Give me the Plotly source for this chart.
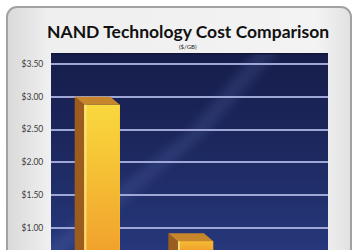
import base64
import plotly.graph_objects as go

# ---- data ----
categories = ["NAND A", "NAND B"]
cost_per_gb = [2.88, 0.80]
y_ticks = [0.5, 1.0, 1.5, 2.0, 2.5, 3.0, 3.5]
y_tick_labels = ["$0.50", "$1.00", "$1.50", "$2.00", "$2.50", "$3.00", "$3.50"]
title_text = "NAND Technology Cost Comparison"
subtitle_text = "($/GB)"

W, H = 359, 250
ML, MR, MT, MB = 51, 31, 53, 0
PW, PH = W - ML - MR, H - MT - MB
Y_RANGE = [0.665, 3.665]


def px(x):
    return (x - ML) / PW


def py(y):
    return (H - MB - y) / PH


bar_w = 0.38
depth_x = -0.10   # oblique depth in x units
depth_y = 0.12    # oblique depth in value units
xpos = list(range(len(categories)))

fig = go.Figure()

# front faces (bars)
fig.add_trace(go.Bar(
    x=xpos, y=cost_per_gb, width=bar_w, hovertext=categories,
    marker=dict(color="#f5c033", line=dict(width=0)),
    hoverinfo="text+y", showlegend=False,
))

for i, v in zip(xpos, cost_per_gb):
    xl, xr = i - bar_w / 2, i + bar_w / 2
    # shaded front face overlay
    fig.add_trace(go.Scatter(
        x=[xl, xr, xr, xl, xl], y=[0, 0, v, v, 0],
        fill="toself", mode="lines", line=dict(width=0),
        fillgradient=dict(type="vertical", start=Y_RANGE[0], stop=max(v, Y_RANGE[0] + 0.3),
                          colorscale=[[0, "#f1a22c"], [0.6, "#f6c436"], [1, "#f9d83e"]]),
        hoverinfo="skip", showlegend=False,
    ))
    # light edge on the left of the front face
    fig.add_trace(go.Scatter(
        x=[xl, xl + 0.025, xl + 0.025, xl, xl], y=[0, 0, v, v, 0],
        fill="toself", fillcolor="rgba(252,232,140,0.75)", mode="lines",
        line=dict(width=0), hoverinfo="skip", showlegend=False,
    ))
    # side face
    fig.add_trace(go.Scatter(
        x=[xl, xl, xl + depth_x, xl + depth_x, xl],
        y=[0, v, v + depth_y, 0 + depth_y, 0],
        fill="toself", fillcolor="#9c5c1d", mode="lines",
        line=dict(width=0), hoverinfo="skip", showlegend=False,
    ))
    # top face
    fig.add_trace(go.Scatter(
        x=[xl, xr, xr + depth_x, xl + depth_x, xl],
        y=[v, v, v + depth_y, v + depth_y, v],
        fill="toself", fillcolor="#c7852c", mode="lines",
        line=dict(width=0), hoverinfo="skip", showlegend=False,
    ))

# decorative background (card + navy plot panel) as inline SVG
svg = f"""<svg xmlns='http://www.w3.org/2000/svg' width='{W}' height='{H}' viewBox='0 0 {W} {H}'>
<defs>
<linearGradient id='card' x1='0' y1='0' x2='1' y2='0'>
<stop offset='0' stop-color='#d9d9d9'/><stop offset='0.12' stop-color='#efefef'/>
<stop offset='0.9' stop-color='#f3f3f3'/><stop offset='1' stop-color='#e2e2e2'/></linearGradient>
<linearGradient id='panel' x1='0' y1='0' x2='0' y2='1'>
<stop offset='0' stop-color='#161d4a'/><stop offset='0.45' stop-color='#1c275d'/>
<stop offset='1' stop-color='#26387b'/></linearGradient>
<filter id='blur' x='-20%' y='-20%' width='140%' height='140%'><feGaussianBlur stdDeviation='4'/></filter>
<clipPath id='pc'><rect x='{ML}' y='{MT}' width='{PW}' height='{PH}'/></clipPath>
</defs>
<rect x='0' y='0' width='{W}' height='{H}' fill='white'/>
<rect x='7' y='7' width='344' height='300' rx='10' ry='10' fill='url(#card)' stroke='#a2a2a2' stroke-width='2'/>
<rect x='{ML}' y='{MT}' width='{PW}' height='{PH}' fill='url(#panel)'/>
<g clip-path='url(#pc)'>
<polygon points='258,{MT - 5} 282,{MT - 5} 205,135 {ML + 10},255 {ML - 15},255 190,130' fill='#6b7fc8' fill-opacity='0.18' filter='url(#blur)'/>
</g>
<rect x='{ML}' y='{MT}' width='{PW}' height='1.5' fill='#10163a'/>
</svg>"""
svg_uri = "data:image/svg+xml;base64," + base64.b64encode(svg.encode()).decode()

fig.update_layout(
    width=W, height=H,
    margin=dict(l=ML, r=MR, t=MT, b=MB, pad=0),
    paper_bgcolor="white",
    plot_bgcolor="rgba(0,0,0,0)",
    images=[dict(source=svg_uri, xref="paper", yref="paper",
                 x=px(0), y=py(0), sizex=W / PW, sizey=H / PH,
                 xanchor="left", yanchor="top", sizing="stretch", layer="below")],
    bargap=0,
    xaxis=dict(type="linear", range=[-0.543, 2.415], showticklabels=False,
               showgrid=False, zeroline=False, fixedrange=True),
    yaxis=dict(range=Y_RANGE, tickvals=y_ticks, ticktext=y_tick_labels,
               showgrid=True, gridcolor="#9ea7d6", gridwidth=1.5, zeroline=False,
               ticks="outside", ticklen=5, tickcolor="rgba(0,0,0,0)",
               tickfont=dict(family="Lato", size=8.5, color="#3a3a3a")),
    annotations=[
        dict(text=f"<b>{title_text}</b>", xref="paper", yref="paper",
             x=px(188), y=py(31), xanchor="center", yanchor="middle",
             showarrow=False, font=dict(family="Lato", size=17.5, color="#111111")),
        dict(text=subtitle_text, xref="paper", yref="paper",
             x=px(188), y=py(46.5), xanchor="center", yanchor="middle",
             showarrow=False, font=dict(family="Lato", size=6, color="#222222")),
    ],
)

fig.write_html("out.html")
